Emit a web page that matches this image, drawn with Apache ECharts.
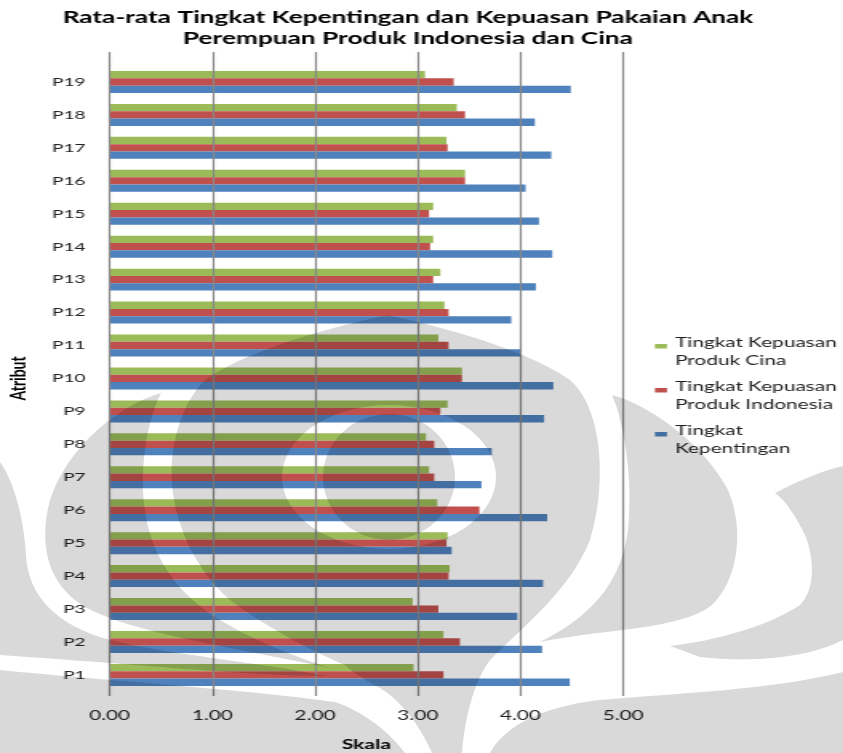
<!DOCTYPE html>
<html>
<head>
<meta charset="utf-8">
<title>Rata-rata Tingkat Kepentingan dan Kepuasan</title>
<script src="https://cdn.jsdelivr.net/npm/echarts@6/dist/echarts.min.js"></script>
<style>
  html, body { margin: 0; padding: 0; background: #fff; }
  #stage { position: relative; width: 843px; height: 753px; overflow: hidden; background: #fff; }
  /* the chart layer is laid out narrow and stretched horizontally */
  #chart { position: absolute; left: 0; top: 0; width: 526.875px; height: 753px;
           transform: scaleX(1.6); transform-origin: 0 0; }
  /* page watermark, multiplied over the chart */
  #mark { position: absolute; left: 0; top: 0; width: 843px; height: 753px;
          mix-blend-mode: multiply; pointer-events: none; }
</style>
</head>
<body>
<div id="stage">
  <div id="chart"></div>
  <div id="mark"></div>
</div>
<script>
// ---- data ----
const categories = ['P1','P2','P3','P4','P5','P6','P7','P8','P9','P10',
                    'P11','P12','P13','P14','P15','P16','P17','P18','P19'];
const kepentingan = [4.48, 4.21, 3.97, 4.22, 3.33, 4.26, 3.62, 3.72, 4.23, 4.32,
                     4.00, 3.91, 4.15, 4.31, 4.18, 4.05, 4.30, 4.14, 4.49];
const kepuasanIndonesia = [3.25, 3.41, 3.20, 3.30, 3.28, 3.60, 3.16, 3.16, 3.22, 3.43,
                           3.30, 3.30, 3.15, 3.12, 3.11, 3.46, 3.29, 3.46, 3.35];
const kepuasanCina = [2.96, 3.25, 2.95, 3.31, 3.29, 3.19, 3.11, 3.08, 3.29, 3.43,
                      3.20, 3.26, 3.22, 3.15, 3.15, 3.46, 3.28, 3.38, 3.07];
const seriesNames = ['Tingkat Kepentingan',
                     'Tingkat Kepuasan Produk Indonesia',
                     'Tingkat Kepuasan Produk Cina'];
const legendLabels = ['Tingkat\nKepentingan',
                      'Tingkat Kepuasan\nProduk Indonesia',
                      'Tingkat Kepuasan\nProduk Cina'];
const tickLabels = ['0.00', '1.00', '2.00', '3.00', '4.00', '5.00'];

// ---- layout helpers (chart layer is stretched by SX) ----
const SX = 1.6;
const W0 = 843 / SX;
const px = x => x / SX;
const PLOT_L = 109.7, PLOT_R = 623;

const chart = echarts.init(document.getElementById('chart'), null, { renderer: 'canvas' });

const option = {
  backgroundColor: '#fff',
  animation: false,
  textStyle: { fontFamily: 'Lato' },
  title: {
    text: 'Rata-rata Tingkat Kepentingan dan Kepuasan Pakaian Anak\nPerempuan Produk Indonesia dan Cina',
    left: px(408), top: 7.5, padding: 0, textAlign: 'center',
    textStyle: { fontFamily: 'Lato', fontWeight: 'bold', fontSize: 16.4, lineHeight: 21, color: '#000' }
  },
  legend: {
    orient: 'vertical',
    left: px(655), top: 334, padding: 0,
    itemWidth: px(12), itemHeight: 26, itemGap: 8,
    icon: 'path://M0,0L12,0L12,7.5L0,7.5Z M0,25.99L0.01,25.99L0.01,26L0,26Z',
    selectedMode: false,
    data: [seriesNames[2], seriesNames[1], seriesNames[0]],
    formatter: name => legendLabels[seriesNames.indexOf(name)],
    textStyle: { fontFamily: 'Lato', fontSize: 13, lineHeight: 18, color: '#222' }
  },
  grid: [
    { left: px(PLOT_L), right: W0 - px(PLOT_R), top: 65.5, bottom: 753 - 691.4,
      containLabel: false, outerBoundsMode: 'none' },
    { left: px(PLOT_L), right: W0 - px(PLOT_R), top: 52, bottom: 57,
      containLabel: false, outerBoundsMode: 'none' }
  ],
  xAxis: [
    { gridIndex: 0, type: 'value', min: 0, max: 5, interval: 1, show: false },
    {
      gridIndex: 1, type: 'value', min: 0, max: 5, interval: 1, z: 10,
      axisLine: { show: false }, axisTick: { show: false },
      splitLine: { show: true, lineStyle: { color: '#878787', width: 1.2 } },
      axisLabel: { formatter: (v) => tickLabels[Math.round(v)], fontFamily: 'Lato', fontSize: 13, color: '#222', margin: 13.5 },
      name: 'Skala', nameLocation: 'middle', nameGap: 42,
      nameTextStyle: { fontFamily: 'Lato', fontWeight: 'bold', fontSize: 13, color: '#000' }
    }
  ],
  yAxis: [
    {
      gridIndex: 0, type: 'category', data: categories,
      axisLine: { show: false }, axisTick: { show: false }, splitLine: { show: false },
      axisLabel: { fontFamily: 'Lato', fontSize: 12, color: '#222', margin: 15 },
      name: 'Atribut', nameLocation: 'middle', nameGap: 50.5, nameRotate: 90,
      nameTextStyle: { fontFamily: 'Lato', fontWeight: 'bold', fontSize: 14, color: '#000' }
    },
    { gridIndex: 1, type: 'value', min: 0, max: 1, show: false }
  ],
  // series order sets the stacking inside each group: Cina on top, Kepentingan at the bottom
  series: [
    { name: seriesNames[2], type: 'bar', xAxisIndex: 0, yAxisIndex: 0, data: kepuasanCina,
      barWidth: 7.33, barGap: '0%', itemStyle: { color: '#9BBB59' } },
    { name: seriesNames[1], type: 'bar', xAxisIndex: 0, yAxisIndex: 0, data: kepuasanIndonesia,
      barWidth: 7.33, barGap: '0%', itemStyle: { color: '#C0504D' } },
    { name: seriesNames[0], type: 'bar', xAxisIndex: 0, yAxisIndex: 0, data: kepentingan,
      barWidth: 7.33, barGap: '0%', itemStyle: { color: '#4F81BD' } }
  ]
};
chart.setOption(option);

// ---- watermark emblem (grey shapes, white gaps) ----
const wm = echarts.init(document.getElementById('mark'), null, { renderer: 'canvas' });
const zr = wm.getZr();
const GREY = '#d9d9d9';
const shapes = [
  // central drop with its stem
  [GREY, 'M387,315 C420,322 520,345 570,380 C605,410 606,490 590,540 C570,590 525,625 490,660 C475,680 465,715 462,753 L432,753 C420,725 400,700 380,688 C365,680 352,672 345,665 C320,655 270,630 230,600 C190,565 168,510 172,460 C176,420 190,395 205,380 C255,345 355,322 387,315 Z'],
  // left wing
  [GREY, 'M161,393 C120,405 68,445 50,500 C38,545 48,585 85,607 C130,632 220,645 330,668 C290,655 240,635 205,610 C165,580 145,540 143,490 C142,450 150,415 161,393 Z'],
  // left outer band
  [GREY, 'M0,462 C12,478 24,515 26,555 C28,595 55,625 110,640 C170,655 260,662 325,676 C250,676 110,662 0,655 Z'],
  // bottom left
  [GREY, 'M0,670 C100,680 250,690 335,702 C365,712 390,733 405,753 L0,753 Z'],
  // right wing
  [GREY, 'M612,395 C650,405 705,445 728,490 C745,530 738,580 712,605 C680,630 610,628 540,642 C600,612 622,575 628,530 C633,480 625,425 612,395 Z'],
  // right outer band
  [GREY, 'M775,493 C800,480 825,470 843,466 L843,640 C815,655 760,664 700,657 L670,646 C720,640 770,625 800,605 C815,590 815,560 805,535 C795,515 785,500 775,493 Z'],
  // bottom right
  [GREY, 'M843,672 C770,690 680,693 600,700 C545,706 505,725 490,753 L843,753 Z'],
  // ring inside the drop
  ['#ffffff', 'M282,477 A107,72 0 1,0 496,477 A107,72 0 1,0 282,477 Z'],
  [GREY, 'M323,477 A66,63 0 1,0 455,477 A66,63 0 1,0 323,477 Z']
];
shapes.forEach(([fill, d], i) => {
  const el = echarts.graphic.makePath(d, { style: { fill: fill, stroke: null }, z2: i });
  zr.add(el);
});
</script>
</body>
</html>
